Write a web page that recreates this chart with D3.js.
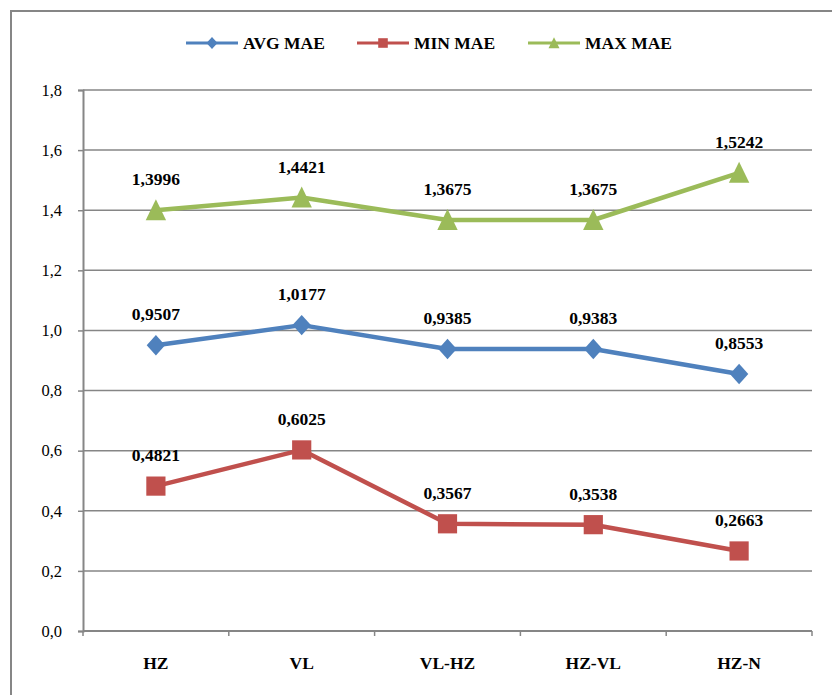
<!DOCTYPE html>
<html>
<head>
<meta charset="utf-8">
<script src="https://cdn.jsdelivr.net/npm/d3@7"></script>
<style>
  html, body { margin: 0; padding: 0; background: #fff; }
  svg { display: block; }
</style>
</head>
<body>
<svg id="chart" width="832" height="695"></svg>
<script>
// Error measures per split strategy
const categories = ["HZ", "VL", "VL-HZ", "HZ-VL", "HZ-N"];
const avgMae = [0.9507, 1.0177, 0.9385, 0.9383, 0.8553];
const minMae = [0.4821, 0.6025, 0.3567, 0.3538, 0.2663];
const maxMae = [1.3996, 1.4421, 1.3675, 1.3675, 1.5242];
const yTicks = [0, 0.2, 0.4, 0.6, 0.8, 1.0, 1.2, 1.4, 1.6, 1.8];
const seriesNames = ["AVG MAE", "MIN MAE", "MAX MAE"];
const seriesColors = ["#4F81BD", "#C0504D", "#9BBB59"];
const seriesShapes = ["diamond", "square", "triangle"];

const FONT = "'Liberation Serif'";

const series = seriesNames.map((name, i) => ({
  name, color: seriesColors[i], shape: seriesShapes[i],
  values: [avgMae, minMae, maxMae][i]
}));

const svg = d3.select("#chart");
const gridColor = "#868686";

// outer frame (left and top edges visible)
svg.append("path")
  .attr("d", "M11,700 L11,11 L840,11")
  .attr("fill", "none").attr("stroke", gridColor).attr("stroke-width", 2);

const plot = { left: 83, right: 812, top: 90, bottom: 631 };

const x = d3.scaleBand().domain(categories).range([plot.left, plot.right]);
const y = d3.scaleLinear().domain([0, 1.8]).range([plot.bottom, plot.top]);

const fmt = v => d3.format(".1f")(v).replace(".", ",");
const fmt4 = v => d3.format(".4f")(v).replace(".", ",");

// horizontal gridlines
svg.append("g").selectAll("line").data(yTicks.filter(t => t > 0)).join("line")
  .attr("x1", plot.left).attr("x2", plot.right)
  .attr("y1", d => y(d)).attr("y2", d => y(d))
  .attr("stroke", gridColor).attr("stroke-width", 1.5);

// y axis
const yAxis = svg.append("g").attr("transform", `translate(${plot.left},0)`)
  .call(d3.axisLeft(y).tickValues(yTicks).tickFormat(fmt).tickSize(5).tickPadding(16));
yAxis.attr("font-family", FONT).attr("font-size", 16.5);
yAxis.select(".domain").attr("stroke", gridColor).attr("stroke-width", 2);
yAxis.selectAll(".tick line").attr("stroke", gridColor).attr("stroke-width", 1.5);
yAxis.selectAll(".tick text").attr("fill", "#000");

// x axis with ticks at category boundaries
const xAxisG = svg.append("g").attr("transform", `translate(0,${plot.bottom})`)
  .attr("font-family", FONT).attr("font-size", 17.5).attr("font-weight", "bold");
xAxisG.append("line").attr("x1", plot.left).attr("x2", plot.right)
  .attr("stroke", gridColor).attr("stroke-width", 2);
const bounds = categories.map(c => x(c)).concat([x(categories[categories.length - 1]) + x.bandwidth()]);
xAxisG.selectAll("line.tick").data(bounds).join("line").attr("class", "tick")
  .attr("x1", d => d).attr("x2", d => d).attr("y1", 0).attr("y2", 5)
  .attr("stroke", gridColor).attr("stroke-width", 1.5);
xAxisG.selectAll("text").data(categories).join("text")
  .attr("x", d => x(d) + x.bandwidth() / 2).attr("y", 37.5)
  .attr("text-anchor", "middle")
  .text(d => d);

const cx = c => x(c) + x.bandwidth() / 2;

// marker outlines: half-width w, half-height h
function markerPath(shape, w, h) {
  if (shape === "diamond") return `M0,${-h}L${w},0L0,${h}L${-w},0Z`;
  if (shape === "square") return `M${-w},${-h}H${w}V${h}H${-w}Z`;
  return `M0,${-h * 1.05}L${w},${h * 0.95}L${-w},${h * 0.95}Z`;
}
const markerDims = {
  diamond: [9.2, 10.2], square: [9.6, 9.6], triangle: [10.2, 10.5]
};
const legendDims = {
  diamond: [5.5, 6], square: [4.8, 4.8], triangle: [5.5, 5.5]
};

const line = d3.line().x((d, i) => cx(categories[i])).y(d => y(d));

series.forEach(s => {
  const g = svg.append("g").attr("font-family", FONT).attr("font-size", 17.5).attr("font-weight", "bold");
  g.append("path").datum(s.values)
    .attr("d", line).attr("fill", "none")
    .attr("stroke", s.color).attr("stroke-width", 4.5).attr("stroke-linejoin", "round");
  const [w, h] = markerDims[s.shape];
  g.selectAll("path.marker").data(s.values).join("path").attr("class", "marker")
    .attr("transform", (v, i) => `translate(${cx(categories[i])},${y(v)})`)
    .attr("d", markerPath(s.shape, w, h))
    .attr("fill", s.color);
  g.selectAll("text").data(s.values).join("text")
    .attr("x", (v, i) => cx(categories[i])).attr("y", v => y(v) - 25)
    .attr("text-anchor", "middle")
    .text(fmt4);
});

// legend
const legendX = [186, 357, 528];
const legend = svg.append("g").attr("font-family", FONT).attr("font-size", 17.5).attr("font-weight", "bold");
series.forEach((s, i) => {
  const g = legend.append("g").attr("transform", `translate(${legendX[i]},43)`);
  g.append("line").attr("x1", 0).attr("x2", 52).attr("stroke", s.color).attr("stroke-width", 3);
  const [w, h] = legendDims[s.shape];
  g.append("path").attr("transform", "translate(26,0)")
    .attr("d", markerPath(s.shape, w, h)).attr("fill", s.color);
  g.append("text").attr("x", 57).attr("y", 6).text(s.name);
});
</script>
</body>
</html>
